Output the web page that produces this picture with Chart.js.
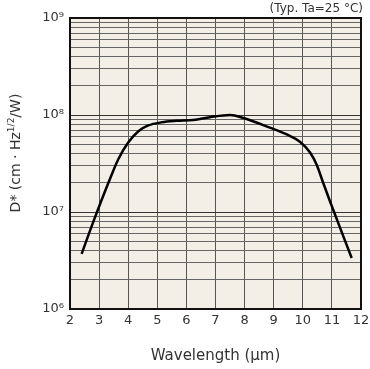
<!DOCTYPE html>
<html lang="en">
<head>
  <meta charset="UTF-8">
  <title>D* vs Wavelength</title>
  <script src="https://cdn.jsdelivr.net/npm/chart.js"></script>
  <style>
    html, body { margin: 0; padding: 0; background: #fff; }
    #wrap { width: 370px; height: 369px; }
  </style>
</head>
<body>
<div id="wrap"><canvas id="myChart" width="370" height="369"></canvas></div>

<script>
  // values
  const wavelength = [2.4, 2.8, 3.32, 3.66, 4.0, 4.35, 4.69, 5.15, 5.67, 6.24, 6.81, 7.5, 7.96, 8.87, 9.45, 9.9, 10.25, 10.48, 10.7, 10.93, 11.68];
  const detectivity = [3.7e6, 7.9e6, 2.0e7, 3.5e7, 5.2e7, 6.8e7, 7.8e7, 8.4e7, 8.7e7, 8.9e7, 9.5e7, 1.0e8, 9.3e7, 7.4e7, 6.3e7, 5.3e7, 4.1e7, 3.05e7, 2.0e7, 1.3e7, 3.35e6];
  const yDecades = [6, 7, 8, 9];
  const yTickLabels = ['10\u2076', '10\u2077', '10\u2078', '10\u2079'];
  const note = '(Typ. Ta=25 \u00B0C)';
  const xTitle = 'Wavelength (\u03BCm)';

  const font = 'Verdana, "DejaVu Sans", sans-serif';

  const extras = {
    id: 'extras',
    beforeDraw(chart) {
      const { ctx, chartArea: a } = chart;
      ctx.save();
      ctx.fillStyle = '#f3efe6';
      ctx.fillRect(a.left, a.top, a.right - a.left, a.bottom - a.top);
      ctx.restore();
    },
    afterDraw(chart) {
      const { ctx, chartArea: a } = chart;
      ctx.save();
      ctx.strokeStyle = '#111';
      ctx.lineWidth = 2;
      ctx.strokeRect(a.left, a.top, a.right - a.left, a.bottom - a.top);

      ctx.fillStyle = '#333';
      ctx.font = '12px ' + font;
      ctx.textAlign = 'right';
      ctx.textBaseline = 'alphabetic';
      ctx.fillText(note, 363, 12);

      // y title with superscript 1/2
      ctx.translate(20, 153);
      ctx.rotate(-Math.PI / 2);
      const p1 = 'D* (cm \u00B7 Hz', p2 = '1/2', p3 = '/W)';
      ctx.font = '14px ' + font;
      const w1 = ctx.measureText(p1).width, w3 = ctx.measureText(p3).width;
      ctx.font = '9px ' + font;
      const w2 = ctx.measureText(p2).width;
      let x = -(w1 + w2 + w3) / 2;
      ctx.textAlign = 'left';
      ctx.font = '14px ' + font;
      ctx.fillText(p1, x, 0);
      x += w1;
      ctx.font = '9px ' + font;
      ctx.fillText(p2, x, -6);
      x += w2;
      ctx.font = '14px ' + font;
      ctx.fillText(p3, x, 0);
      ctx.restore();
    }
  };

  const yTicks = [];
  yDecades.forEach((d, i) => {
    if (i === yDecades.length - 1) { yTicks.push(Math.pow(10, d)); return; }
    for (let m = 1; m <= 9; m++) yTicks.push(m * Math.pow(10, d));
  });

  const ctx = document.getElementById('myChart').getContext('2d');
  new Chart(ctx, {
    type: 'line',
    data: {
      datasets: [{
        data: wavelength.map((w, i) => ({ x: w, y: detectivity[i] })),
        borderColor: '#000',
        borderWidth: 2.5,
        pointRadius: 0,
        fill: false,
        cubicInterpolationMode: 'monotone'
      }]
    },
    options: {
      responsive: false,
      animation: false,
      layout: { padding: { left: 0, right: 9, top: 18, bottom: 0 } },
      plugins: { legend: { display: false }, tooltip: { enabled: false } },
      scales: {
        x: {
          type: 'linear',
          min: 2,
          max: 12,
          ticks: { stepSize: 1, color: '#333', font: { size: 13, family: font }, padding: 4 },
          grid: { color: '#555', lineWidth: 1, drawTicks: false },
          border: { display: false },
          title: { display: true, text: xTitle, color: '#333', font: { size: 15, family: font }, padding: { top: 16 } },
          afterFit(s) { s.height = 60; s.paddingRight = 0; s.paddingLeft = 0; }
        },
        y: {
          type: 'logarithmic',
          min: 1e6,
          max: 1e9,
          afterBuildTicks(s) { s.ticks = yTicks.map(v => ({ value: v })); },
          ticks: {
            autoSkip: false,
            color: '#333',
            font: { size: 13, family: font },
            padding: 6,
            callback(v) {
              const i = yDecades.indexOf(Math.round(Math.log10(v)));
              return Math.abs(Math.log10(v) - Math.round(Math.log10(v))) < 1e-9 && i >= 0 ? yTickLabels[i] : '';
            }
          },
          grid: {
            drawTicks: false,
            color(c) {
              const v = c.tick ? c.tick.value : 0;
              const l = Math.log10(v);
              return Math.abs(l - Math.round(l)) < 1e-9 ? '#333' : '#666';
            }
          },
          border: { display: false },
          afterFit(s) { s.width = 70; s.paddingTop = 0; s.paddingBottom = 0; }
        }
      }
    },
    plugins: [extras]
  });
</script>
</body>
</html>
